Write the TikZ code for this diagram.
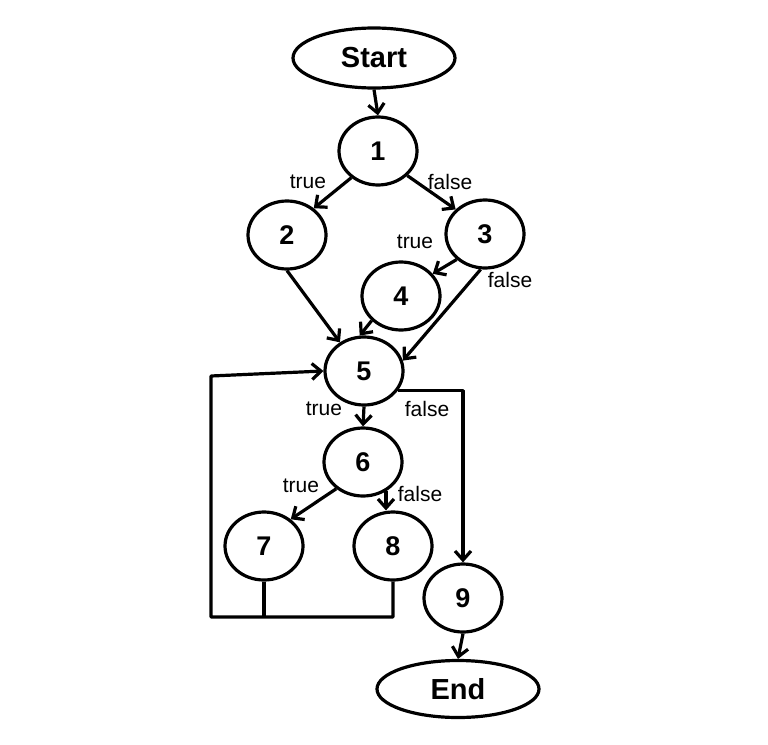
\documentclass[tikz,border=0pt]{standalone}
\usepackage{fontspec}
\setmainfont{Liberation Sans}
\usetikzlibrary{shapes.geometric,arrows.meta}
\begin{document}
\begin{tikzpicture}[x=1pt,y=-1pt,
  vertex/.style={ellipse,draw,line width=3.2pt,minimum width=78pt,minimum height=68pt,inner sep=0pt,font=\fontsize{27}{27}\selectfont\bfseries},
  term/.style={ellipse,draw,line width=3.2pt,minimum width=162pt,minimum height=60pt,inner sep=0pt,font=\fontsize{29}{29}\selectfont\bfseries},
  lab/.style={font=\fontsize{21}{21}\selectfont,inner sep=0pt},
  edge/.style={line width=3.2pt,line join=round,-{Straight Barb[length=9pt,width=16pt]}},
  wire/.style={line width=3.2pt}
]
\useasboundingbox (0,0) rectangle (768,744);
\fill[white] (0,0) rectangle (768,744);

\node[term] (start) at (374,58) {Start};
\node[vertex] (n1) at (378,151) {1};
\node[vertex] (n2) at (287,235) {2};
\node[vertex] (n3) at (485,234) {3};
\node[vertex] (n4) at (401,296) {4};
\node[vertex] (n5) at (364,371) {5};
\node[vertex] (n6) at (363,462) {6};
\node[vertex] (n7) at (264,546) {7};
\node[vertex] (n8) at (393,546) {8};
\node[vertex] (n9) at (463,598) {9};
\node[term,minimum height=57pt] (end) at (458,689) {End};

\node[lab] (t12) at (308,182) {true};
\node[lab] (f13) at (450,182) {false};
\node[lab] (t34) at (415,242) {true};
\node[lab] (f35) at (510,280) {false};
\node[lab] (t56) at (324,409) {true};
\node[lab] (f59) at (427,409) {false};
\node[lab] (t67) at (301,486) {true};
\node[lab] (f68) at (420,494) {false};

\draw[edge] (start.south) -- (n1.north);
\draw[edge] (n1.225) -- (n2.45);
\draw[edge] (n1.-40) -- (n3.140);
\draw[edge] (n2.south) -- (n5.130);
\draw[edge] (n3.222) -- (n4.35);
\draw[edge] (n3.-97) -- (n5.15);
\draw[edge] (n4.220) -- (n5.97);
\draw[edge] (n5.south) -- (n6.north);
\draw[edge] (n6.225) -- (n7.45);
\draw[edge] (n6.-52) -- (n6.-52 |- n8.north);
\draw[edge] (n5.-30) -| (n9.north);
\draw[edge] (n9.south) -- (end.north);

\coordinate (lt) at (211,376);
\coordinate (lb) at (211,617);
\draw[wire] (n7.south) -- (n7.south |- lb);
\draw[edge] (n8.south) -- (n8.south |- lb) -- (lb) -- (lt) -- (n5.west);
\end{tikzpicture}
\end{document}
